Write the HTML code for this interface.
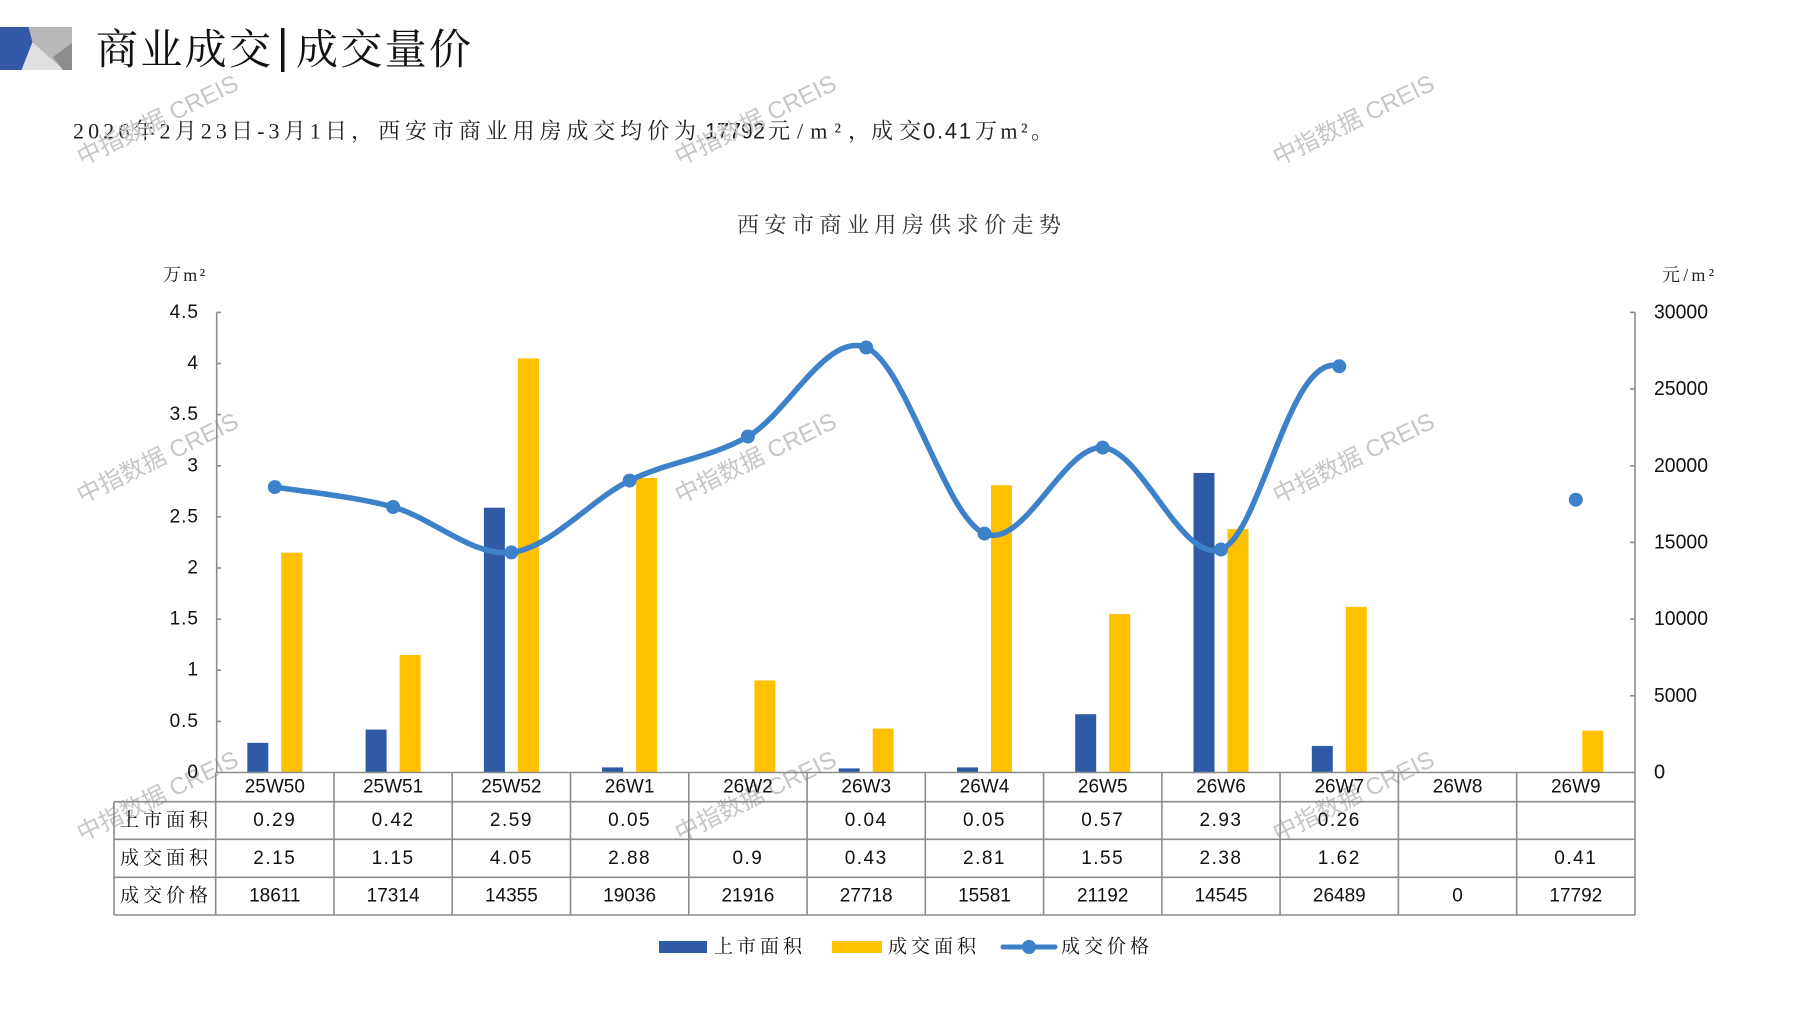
<!DOCTYPE html>
<html>
<head>
<meta charset="utf-8">
<style>
  html,body{margin:0;padding:0;background:#ffffff;}
  body{width:1797px;height:1010px;overflow:hidden;position:relative;}
  svg{position:absolute;left:0;top:0;}
  .cj{font-family:"Liberation Serif","Noto Serif CJK SC",serif;}
  .ls{font-family:"Liberation Sans","Noto Sans CJK SC",sans-serif;}
</style>
</head>
<body>
<svg width="1797" height="1010" viewBox="0 0 1797 1010" xmlns="http://www.w3.org/2000/svg">
  <!-- header shape -->
  <rect x="0" y="27" width="72" height="43" fill="#b9b9b9"/>
  <polygon points="32,42 21,70 64,70" fill="#e0e0e0"/>
  <polygon points="72,43 72,70 63,70 53,57" fill="#8c8c8c"/>
  <polygon points="0,27 28.5,27 32.5,42 21.5,70 0,70" fill="#3358a8"/>

  <!-- Title -->
  <text x="96" y="51" class="cj" font-size="42" fill="#111" dominant-baseline="central" textLength="175" lengthAdjust="spacing">商业成交</text>
  <rect x="281" y="28" width="3.5" height="44" fill="#111"/>
  <text x="296" y="51" class="cj" font-size="42" fill="#111" dominant-baseline="central" textLength="175" lengthAdjust="spacing">成交量价</text>

  <!-- Subtitle -->
  <g font-size="22" fill="#222" dominant-baseline="central">
    <text x="73" y="131" class="cj" textLength="300" lengthAdjust="spacing">2026年2月23日-3月1日，</text>
    <text x="378" y="131" class="cj" textLength="318" lengthAdjust="spacing">西安市商业用房成交均价为</text>
    <text x="705" y="131" class="ls" textLength="60" lengthAdjust="spacingAndGlyphs">17792</text>
    <text x="768" y="131" class="cj" textLength="102" lengthAdjust="spacing">元/m²，</text>
    <text x="871" y="131" class="cj" textLength="50" lengthAdjust="spacing">成交</text>
    <text x="923" y="131" class="ls" textLength="48" lengthAdjust="spacing">0.41</text>
    <text x="975" y="131" class="cj" textLength="78" lengthAdjust="spacing">万m²。</text>
  </g>

  <!-- chart title -->
  <text x="737" y="225" class="cj" font-size="22" fill="#333" dominant-baseline="central" textLength="324" lengthAdjust="spacing">西安市商业用房供求价走势</text>

  <!-- unit labels -->
  <text x="163" y="275" class="cj" font-size="18" fill="#222" dominant-baseline="central" textLength="42" lengthAdjust="spacing">万m²</text>
  <text x="1662" y="275" class="cj" font-size="18" fill="#222" dominant-baseline="central" textLength="52" lengthAdjust="spacing">元/m²</text>

  <!-- watermarks -->
  <g font-family="Liberation Sans, Noto Sans CJK SC, sans-serif" font-size="24" fill="#c6c6c6">
    <text transform="translate(82,166) rotate(-26)">中指数据 CREIS</text>
    <text transform="translate(680,166) rotate(-26)">中指数据 CREIS</text>
    <text transform="translate(1278,166) rotate(-26)">中指数据 CREIS</text>
    <text transform="translate(82,504) rotate(-26)">中指数据 CREIS</text>
    <text transform="translate(680,504) rotate(-26)">中指数据 CREIS</text>
    <text transform="translate(1278,504) rotate(-26)">中指数据 CREIS</text>
    <text transform="translate(82,842) rotate(-26)">中指数据 CREIS</text>
    <text transform="translate(680,842) rotate(-26)">中指数据 CREIS</text>
    <text transform="translate(1278,842) rotate(-26)">中指数据 CREIS</text>
  </g>

  <!-- axes -->
  <g stroke="#8c8c8c" stroke-width="1.6" fill="none">
    <line x1="216.7" y1="312.4" x2="216.7" y2="772.5"/>
    <line x1="1635" y1="312.4" x2="1635" y2="772.5"/>
    <line x1="216.7" y1="312.4" x2="221" y2="312.4"/>
    <line x1="216.7" y1="363.5" x2="221" y2="363.5"/>
    <line x1="216.7" y1="414.6" x2="221" y2="414.6"/>
    <line x1="216.7" y1="465.8" x2="221" y2="465.8"/>
    <line x1="216.7" y1="516.9" x2="221" y2="516.9"/>
    <line x1="216.7" y1="568.0" x2="221" y2="568.0"/>
    <line x1="216.7" y1="619.1" x2="221" y2="619.1"/>
    <line x1="216.7" y1="670.2" x2="221" y2="670.2"/>
    <line x1="216.7" y1="721.4" x2="221" y2="721.4"/>
    <line x1="1630" y1="312.4" x2="1635" y2="312.4"/>
    <line x1="1630" y1="389.1" x2="1635" y2="389.1"/>
    <line x1="1630" y1="465.8" x2="1635" y2="465.8"/>
    <line x1="1630" y1="542.4" x2="1635" y2="542.4"/>
    <line x1="1630" y1="619.1" x2="1635" y2="619.1"/>
    <line x1="1630" y1="695.8" x2="1635" y2="695.8"/>
  </g>

  <!-- left axis labels -->
  <g class="ls" font-size="19" fill="#111" text-anchor="end" dominant-baseline="central" letter-spacing="1">
    <text x="199" y="312.4">4.5</text>
    <text x="199" y="363.5">4</text>
    <text x="199" y="414.6">3.5</text>
    <text x="199" y="465.8">3</text>
    <text x="199" y="516.9">2.5</text>
    <text x="199" y="568.0">2</text>
    <text x="199" y="619.1">1.5</text>
    <text x="199" y="670.2">1</text>
    <text x="199" y="721.4">0.5</text>
    <text x="199" y="772.5">0</text>
  </g>
  <!-- right axis labels -->
  <g class="ls" font-size="20" fill="#111" dominant-baseline="central">
    <text x="1654" y="312.4" textLength="54" lengthAdjust="spacingAndGlyphs">30000</text>
    <text x="1654" y="389.1" textLength="54" lengthAdjust="spacingAndGlyphs">25000</text>
    <text x="1654" y="465.8" textLength="54" lengthAdjust="spacingAndGlyphs">20000</text>
    <text x="1654" y="542.4" textLength="54" lengthAdjust="spacingAndGlyphs">15000</text>
    <text x="1654" y="619.1" textLength="54" lengthAdjust="spacingAndGlyphs">10000</text>
    <text x="1654" y="695.8" textLength="43" lengthAdjust="spacingAndGlyphs">5000</text>
    <text x="1654" y="772.5">0</text>
  </g>

  <!-- bars blue -->
  <g fill="#2f5aa6">
    <rect x="247.3" y="742.85" width="21" height="29.65"/>
    <rect x="365.6" y="729.56" width="21" height="42.94"/>
    <rect x="483.9" y="507.7" width="21" height="264.8"/>
    <rect x="602.1" y="767.39" width="21" height="5.11"/>
    <rect x="838.7" y="768.41" width="21" height="4.09"/>
    <rect x="957.0" y="767.39" width="21" height="5.11"/>
    <rect x="1075.2" y="714.22" width="21" height="58.28"/>
    <rect x="1193.5" y="472.94" width="21" height="299.56"/>
    <rect x="1311.8" y="745.92" width="21" height="26.58"/>
  </g>
  <!-- bars yellow -->
  <g fill="#ffc000">
    <rect x="281.3" y="552.68" width="21" height="219.82"/>
    <rect x="399.6" y="654.92" width="21" height="117.58"/>
    <rect x="517.9" y="358.43" width="21" height="414.07"/>
    <rect x="636.1" y="478.05" width="21" height="294.45"/>
    <rect x="754.4" y="680.48" width="21" height="92.02"/>
    <rect x="872.7" y="728.54" width="21" height="43.96"/>
    <rect x="991.0" y="485.21" width="21" height="287.29"/>
    <rect x="1109.2" y="614.03" width="21" height="158.47"/>
    <rect x="1227.5" y="529.17" width="21" height="243.33"/>
    <rect x="1345.8" y="606.87" width="21" height="165.63"/>
    <rect x="1582.3" y="730.58" width="21" height="41.92"/>
  </g>

  <!-- price line -->
  <path d="M274.8,487.1 C294.5,490.4 353.7,496.1 393.1,507.0
           C432.5,517.9 472.0,556.8 511.4,552.4
           C550.8,548.0 590.2,499.9 629.6,480.6
           C669.0,461.3 708.5,458.7 747.9,436.5
           C787.3,414.3 826.8,331.3 866.2,347.5
           C905.6,363.7 945.1,516.9 984.5,533.6
           C1023.9,550.3 1063.3,444.95 1102.7,447.6
           C1142.1,450.25 1181.6,563.05 1221.0,549.5
           C1260.4,535.95 1290,350 1339.3,366.3"
        fill="none" stroke="#3d82c9" stroke-width="5.5" stroke-linecap="round" stroke-linejoin="round"/>
  <g fill="#3d82c9">
    <circle cx="274.8" cy="487.1" r="7"/>
    <circle cx="393.1" cy="507.0" r="7"/>
    <circle cx="511.4" cy="552.4" r="7"/>
    <circle cx="629.6" cy="480.6" r="7"/>
    <circle cx="747.9" cy="436.5" r="7"/>
    <circle cx="866.2" cy="347.5" r="7"/>
    <circle cx="984.5" cy="533.6" r="7"/>
    <circle cx="1102.7" cy="447.6" r="7"/>
    <circle cx="1221.0" cy="549.5" r="7"/>
    <circle cx="1339.3" cy="366.3" r="7"/>
    <circle cx="1575.8" cy="499.7" r="7"/>
  </g>

  <!-- table grid -->
  <g stroke="#8c8c8c" stroke-width="1.6" fill="none">
    <line x1="215.7" y1="772.5" x2="1635" y2="772.5"/>
    <line x1="114" y1="801.7" x2="1635" y2="801.7"/>
    <line x1="114" y1="839.3" x2="1635" y2="839.3"/>
    <line x1="114" y1="877.3" x2="1635" y2="877.3"/>
    <line x1="114" y1="915" x2="1635" y2="915"/>
    <line x1="114" y1="801.7" x2="114" y2="915"/>
    <line x1="215.7" y1="772.5" x2="215.7" y2="915"/>
    <line x1="334.0" y1="772.5" x2="334.0" y2="915"/>
    <line x1="452.2" y1="772.5" x2="452.2" y2="915"/>
    <line x1="570.5" y1="772.5" x2="570.5" y2="915"/>
    <line x1="688.8" y1="772.5" x2="688.8" y2="915"/>
    <line x1="807.1" y1="772.5" x2="807.1" y2="915"/>
    <line x1="925.3" y1="772.5" x2="925.3" y2="915"/>
    <line x1="1043.6" y1="772.5" x2="1043.6" y2="915"/>
    <line x1="1161.9" y1="772.5" x2="1161.9" y2="915"/>
    <line x1="1280.1" y1="772.5" x2="1280.1" y2="915"/>
    <line x1="1398.4" y1="772.5" x2="1398.4" y2="915"/>
    <line x1="1516.7" y1="772.5" x2="1516.7" y2="915"/>
    <line x1="1635" y1="772.5" x2="1635" y2="915"/>
  </g>

  <!-- row labels -->
  <g class="cj" font-size="19" fill="#111" dominant-baseline="central">
    <text x="120" y="820.5" textLength="88" lengthAdjust="spacing">上市面积</text>
    <text x="120" y="858.3" textLength="88" lengthAdjust="spacing">成交面积</text>
    <text x="120" y="896.2" textLength="88" lengthAdjust="spacing">成交价格</text>
  </g>

  <!-- table text -->
  <g class="ls" font-size="19" fill="#111" text-anchor="middle" dominant-baseline="central">
    <text x="274.8" y="787">25W50</text>
    <text x="393.1" y="787">25W51</text>
    <text x="511.4" y="787">25W52</text>
    <text x="629.6" y="787">26W1</text>
    <text x="747.9" y="787">26W2</text>
    <text x="866.2" y="787">26W3</text>
    <text x="984.5" y="787">26W4</text>
    <text x="1102.7" y="787">26W5</text>
    <text x="1221.0" y="787">26W6</text>
    <text x="1339.3" y="787">26W7</text>
    <text x="1457.6" y="787">26W8</text>
    <text x="1575.8" y="787">26W9</text>
  </g>
  <g class="ls" font-size="19" fill="#111" text-anchor="middle" dominant-baseline="central" letter-spacing="1.5">
    <text x="274.8" y="820.5">0.29</text>
    <text x="393.1" y="820.5">0.42</text>
    <text x="511.4" y="820.5">2.59</text>
    <text x="629.6" y="820.5">0.05</text>
    <text x="866.2" y="820.5">0.04</text>
    <text x="984.5" y="820.5">0.05</text>
    <text x="1102.7" y="820.5">0.57</text>
    <text x="1221.0" y="820.5">2.93</text>
    <text x="1339.3" y="820.5">0.26</text>

    <text x="274.8" y="858.3">2.15</text>
    <text x="393.1" y="858.3">1.15</text>
    <text x="511.4" y="858.3">4.05</text>
    <text x="629.6" y="858.3">2.88</text>
    <text x="747.9" y="858.3">0.9</text>
    <text x="866.2" y="858.3">0.43</text>
    <text x="984.5" y="858.3">2.81</text>
    <text x="1102.7" y="858.3">1.55</text>
    <text x="1221.0" y="858.3">2.38</text>
    <text x="1339.3" y="858.3">1.62</text>
    <text x="1575.8" y="858.3">0.41</text>
  </g>
  <g class="ls" font-size="19" fill="#111" text-anchor="middle" dominant-baseline="central">
    <text x="274.8" y="896.2">18611</text>
    <text x="393.1" y="896.2">17314</text>
    <text x="511.4" y="896.2">14355</text>
    <text x="629.6" y="896.2">19036</text>
    <text x="747.9" y="896.2">21916</text>
    <text x="866.2" y="896.2">27718</text>
    <text x="984.5" y="896.2">15581</text>
    <text x="1102.7" y="896.2">21192</text>
    <text x="1221.0" y="896.2">14545</text>
    <text x="1339.3" y="896.2">26489</text>
    <text x="1457.6" y="896.2">0</text>
    <text x="1575.8" y="896.2">17792</text>
  </g>

  <!-- legend -->
  <rect x="659" y="941" width="48" height="12" fill="#2f5aa6"/>
  <text x="714" y="947" class="cj" font-size="19" fill="#111" dominant-baseline="central" textLength="88" lengthAdjust="spacing">上市面积</text>
  <rect x="832" y="941" width="50" height="12" fill="#ffc000"/>
  <text x="888" y="947" class="cj" font-size="19" fill="#111" dominant-baseline="central" textLength="88" lengthAdjust="spacing">成交面积</text>
  <line x1="1003" y1="947" x2="1055" y2="947" stroke="#3d82c9" stroke-width="5" stroke-linecap="round"/>
  <circle cx="1029" cy="947" r="7" fill="#3d82c9"/>
  <text x="1061" y="947" class="cj" font-size="19" fill="#111" dominant-baseline="central" textLength="88" lengthAdjust="spacing">成交价格</text>
</svg>
</body>
</html>
